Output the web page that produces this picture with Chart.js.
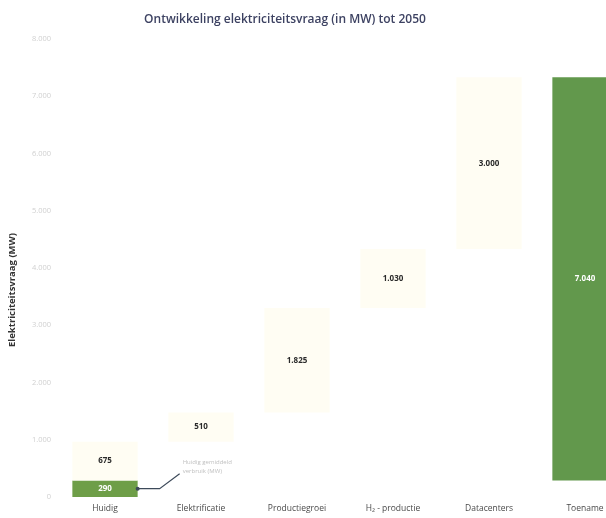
<!DOCTYPE html>
<html>
<head>
<meta charset="utf-8">
<script src="https://cdn.jsdelivr.net/npm/chart.js@4/dist/chart.umd.min.js"></script>
<style>
  html, body { margin: 0; padding: 0; background: #ffffff; overflow: hidden; }
  #wrap { width: 640px; height: 518px; position: relative; }
</style>
</head>
<body>
<div id="wrap"><canvas id="c"></canvas></div>
<script>
// ---- data ----
const categories = ['Huidig', 'Elektrificatie', 'Productiegroei', 'H\u2082 - productie', 'Datacenters', 'Toename'];
const baseValue = 290;                              // huidige vraag (groen)
const increments = [675, 510, 1825, 1030, 3000];    // toename per onderdeel
const totalIncrease = 7040;                         // Toename totaal
const yTicks = [0, 1000, 2000, 3000, 4000, 5000, 6000, 7000, 8000];
const calloutLines = ['Huidig gemiddeld', 'verbruik (MW)'];
const yTitle = 'Elektriciteitsvraag (MW)';
const chartTitle = 'Ontwikkeling elektriciteitsvraag (in MW) tot 2050';

// ---- build floating bars ----
const paleData = [];
let running = baseValue;
increments.forEach(v => { paleData.push([running, running + v]); running += v; });
paleData.push(null);
const greenData = [[0, baseValue], null, null, null, null, [baseValue, baseValue + totalIncrease]];
const paleValues = increments.concat([null]);
const greenValues = [baseValue, null, null, null, null, totalIncrease];

function fmt(n) { return String(n).replace(/\B(?=(\d{3})+(?!\d))/g, '.'); }

const FONT = "'Open Sans', 'Liberation Sans', sans-serif";

const labelPlugin = {
  id: 'labels',
  afterDatasetsDraw(chart) {
    const ctx = chart.ctx;
    ctx.save();
    ctx.textAlign = 'center';
    ctx.textBaseline = 'middle';
    chart.getDatasetMeta(0).data.forEach((el, i) => {
      if (paleValues[i] == null) return;
      const cy = (el.y + el.base) / 2;
      ctx.font = "bold 8px " + FONT;
      ctx.fillStyle = '#2a2a2a';
      ctx.fillText(fmt(paleValues[i]), el.x, cy);
    });
    chart.getDatasetMeta(1).data.forEach((el, i) => {
      if (greenValues[i] == null) return;
      const cy = (el.y + el.base) / 2;
      ctx.font = "bold 8px " + FONT;
      ctx.fillStyle = '#ffffff';
      ctx.fillText(fmt(greenValues[i]), el.x, cy);
    });
    // callout from Huidig green bar
    const g = chart.getDatasetMeta(1).data[0];
    const right = g.x + g.width / 2;
    const midY = (g.y + g.base) / 2;
    ctx.strokeStyle = '#3d4a5a';
    ctx.lineWidth = 1.2;
    ctx.beginPath();
    ctx.moveTo(right, midY);
    ctx.lineTo(right + 22, midY);
    ctx.lineTo(right + 42, midY - 15);
    ctx.stroke();
    ctx.fillStyle = '#3d4a5a';
    ctx.beginPath();
    ctx.arc(right, midY, 2, 0, Math.PI * 2);
    ctx.fill();
    ctx.font = "6px " + FONT;
    ctx.fillStyle = '#c0c0c0';
    ctx.textAlign = 'left';
    ctx.fillText(calloutLines[0], right + 45, midY - 26);
    ctx.fillText(calloutLines[1], right + 45, midY - 17);
    // chart title
    ctx.textAlign = 'center';
    ctx.font = "600 12px " + FONT;
    ctx.fillStyle = '#3d4262';
    ctx.fillText(chartTitle, 285, 20);
    // y axis title
    ctx.translate(12, 290);
    ctx.rotate(-Math.PI / 2);
    ctx.font = "bold 9.5px " + FONT;
    ctx.fillStyle = '#333333';
    ctx.fillText(yTitle, 0, 0);
    ctx.restore();
  }
};

new Chart(document.getElementById('c'), {
  type: 'bar',
  data: {
    labels: categories,
    datasets: [
      {
        label: 'Toename',
        data: paleData,
        backgroundColor: '#fffdf3',
        borderWidth: 0,
        grouped: false,
        barPercentage: 0.68,
        categoryPercentage: 1.0
      },
      {
        label: 'Huidig / totaal',
        data: greenData,
        backgroundColor: ['#6e9e48', '#6e9e48', '#6e9e48', '#6e9e48', '#6e9e48', '#62984c'],
        borderWidth: 0,
        grouped: false,
        barPercentage: 0.68,
        categoryPercentage: 1.0
      }
    ]
  },
  options: {
    responsive: true,
    maintainAspectRatio: false,
    animation: false,
    layout: { padding: { left: 0, right: 7, top: 39, bottom: 0 } },
    plugins: {
      legend: { display: false },
      tooltip: { enabled: false },
      title: { display: false }
    },
    scales: {
      x: {
        grid: { display: false, drawTicks: false, tickLength: 0 },
        border: { display: false },
        ticks: { color: '#4a4a4a', font: { family: FONT, size: 8.5 }, padding: 6, maxRotation: 0 },
        afterFit(s) { s.height = 21; }
      },
      y: {
        min: 0,
        max: 8000,
        afterBuildTicks(s) { s.ticks = yTicks.map(v => ({ value: v })); },
        grid: { display: false, drawTicks: false, tickLength: 0 },
        border: { display: false },
        ticks: {
          color: '#d0d0d0',
          font: { family: FONT, size: 7.5 },
          padding: 6,
          callback: v => fmt(v)
        },
        afterFit(s) { s.width = 57; }
      }
    }
  },
  plugins: [labelPlugin]
});
</script>
</body>
</html>
